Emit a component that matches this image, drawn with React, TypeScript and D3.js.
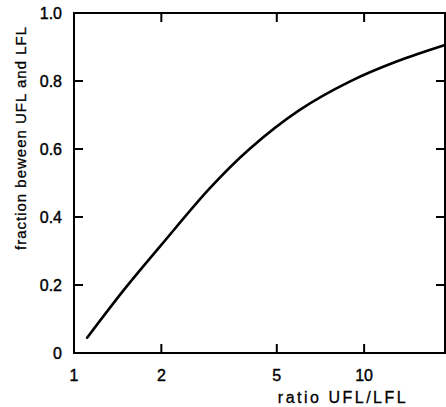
import React, { useEffect, useRef } from 'react';
import * as d3 from 'd3';

// values
const ratios = [1.11, 1.5, 2, 2.94, 4, 6, 8.95, 13, 19];
const fractions = [0.045, 0.19, 0.318, 0.485, 0.598, 0.715, 0.799, 0.858, 0.906];
const xTicks = [1, 2, 5, 10];
const yTicks = [0, 0.2, 0.4, 0.6, 0.8, 1.0];
const yTickLabels = ['0', '0.2', '0.4', '0.6', '0.8', '1.0'];

const W = 446;
const H = 407;
const FONT = '"Liberation Sans", Arial, sans-serif';

function App() {
    const ref = useRef<SVGSVGElement>(null);

    useEffect(() => {
        const svg = d3.select(ref.current);
        svg.selectAll('*').remove();

        const left = 74, right = 445, top = 13, bottom = 353;
        const x = d3.scaleLog().domain([1, 19]).range([left, right]);
        const y = d3.scaleLinear().domain([0, 1]).range([bottom, top]);

        const g = svg.append('g');

        // frame
        g.append('rect')
            .attr('x', left).attr('y', top)
            .attr('width', right - left).attr('height', bottom - top)
            .attr('fill', 'none').attr('stroke', '#000').attr('stroke-width', 2);

        const tl = 9;
        // x ticks bottom and top (inward)
        xTicks.slice(1).forEach((t) => {
            g.append('line').attr('x1', x(t)).attr('x2', x(t)).attr('y1', bottom).attr('y2', bottom - tl)
                .attr('stroke', '#000').attr('stroke-width', 2);
            g.append('line').attr('x1', x(t)).attr('x2', x(t)).attr('y1', top).attr('y2', top + tl)
                .attr('stroke', '#000').attr('stroke-width', 2);
        });
        xTicks.forEach((t) => {
            g.append('text').attr('x', x(t)).attr('y', 381)
                .attr('text-anchor', 'middle')
                .attr('font-family', FONT).attr('font-size', 16)
                .attr('stroke', '#000').attr('stroke-width', 0.4)
                .text(String(t));
        });

        // y ticks left and right (inward)
        yTicks.slice(1, -1).forEach((t) => {
            g.append('line').attr('x1', left).attr('x2', left + tl).attr('y1', y(t)).attr('y2', y(t))
                .attr('stroke', '#000').attr('stroke-width', 2);
            g.append('line').attr('x1', right).attr('x2', right - tl).attr('y1', y(t)).attr('y2', y(t))
                .attr('stroke', '#000').attr('stroke-width', 2);
        });
        yTicks.forEach((t, i) => {
            g.append('text').attr('x', 62).attr('y', y(t) + 6)
                .attr('text-anchor', 'end')
                .attr('font-family', FONT).attr('font-size', 16)
                .attr('stroke', '#000').attr('stroke-width', 0.4)
                .text(yTickLabels[i]);
        });

        // curve
        const line = d3.line<number>()
            .x((d, i) => x(ratios[i]))
            .y((d) => y(d))
            .curve(d3.curveCatmullRom);
        g.append('path')
            .attr('d', line(fractions))
            .attr('fill', 'none').attr('stroke', '#000').attr('stroke-width', 2.6)
            .attr('stroke-linecap', 'round');

        // axis titles
        g.append('text').attr('x', 343).attr('y', 403)
            .attr('text-anchor', 'middle')
            .attr('font-family', FONT).attr('font-size', 16)
            .attr('letter-spacing', 2.5)
            .attr('stroke', '#000').attr('stroke-width', 0.3)
            .text('ratio UFL/LFL');
        g.append('text')
            .attr('transform', `translate(26,138) rotate(-90)`)
            .attr('text-anchor', 'middle')
            .attr('font-family', FONT).attr('font-size', 15)
            .attr('letter-spacing', 1)
            .attr('stroke', '#000').attr('stroke-width', 0.3)
            .text('fraction beween UFL and LFL');
    }, []);

    return (
        <svg ref={ref} width={W} height={H}
            style={{ position: 'absolute', left: 0, top: 0, background: '#fff' }} />
    );
}

export default App;
